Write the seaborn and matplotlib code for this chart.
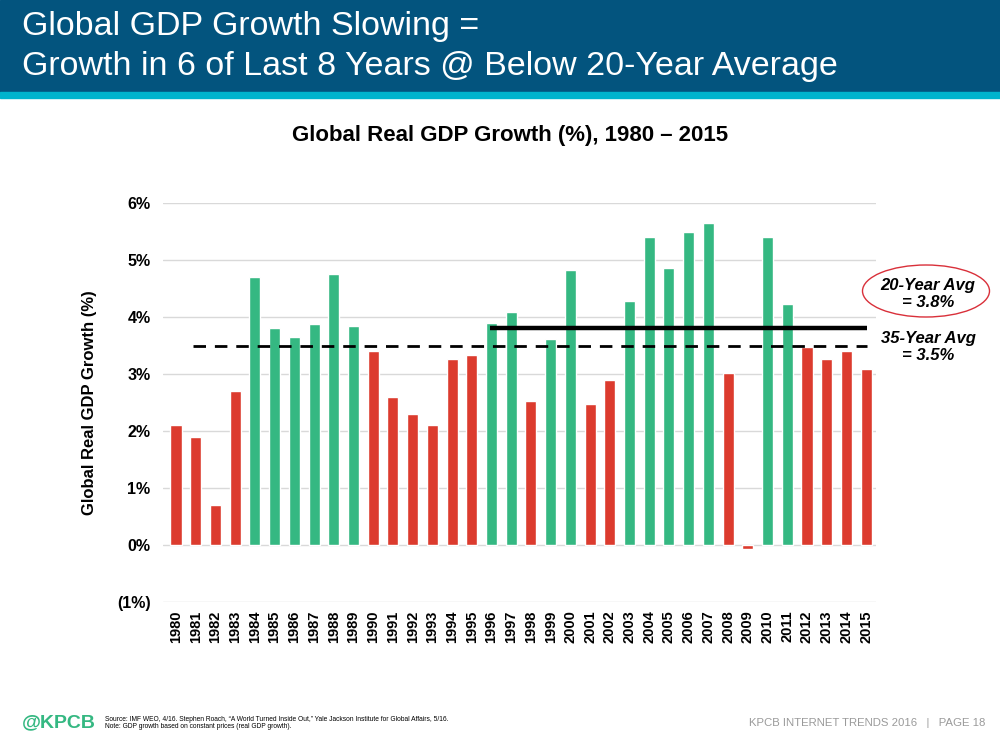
"""
Global Real GDP Growth (%) 1980-2015 bar chart, KPCB slide style.
"""

import numpy as np
import pandas as pd
import seaborn as sns
import matplotlib.pyplot as plt
from matplotlib.patches import Rectangle, Ellipse

# data
years = [str(y) for y in range(1980, 2016)]
growth = [2.1, 1.9, 0.7, 2.7, 4.7, 3.8, 3.65, 3.87, 4.75, 3.84,
          3.41, 2.6, 2.29, 2.1, 3.27, 3.33, 3.89, 4.08, 2.53, 3.62,
          4.82, 2.48, 2.9, 4.28, 5.4, 4.86, 5.49, 5.65, 3.01, -0.07,
          5.4, 4.22, 3.47, 3.27, 3.41, 3.08]
avg_20 = 3.8
avg_35 = 3.5
y_ticks = [-1, 0, 1, 2, 3, 4, 5, 6]
y_tick_labels = ['(1%)', '0%', '1%', '2%', '3%', '4%', '5%', '6%']

GREEN = '#35B882'
RED = '#DC3B2E'


def main():
    sns.set_style('white')
    plt.rcParams['font.family'] = ['Liberation Sans', 'DejaVu Sans']
    for key in ['text.color', 'axes.labelcolor', 'xtick.color', 'ytick.color']:
        plt.rcParams[key] = 'black'

    df = pd.DataFrame({'Year': years, 'Growth': growth})
    df['Group'] = np.where(df['Growth'] > avg_35, 'above', 'below')

    fig = plt.figure(figsize=(10, 7.47), dpi=100)

    # header band
    fig.patches.append(Rectangle((0, 1 - 92 / 747), 1, 92 / 747, transform=fig.transFigure,
                                 color='#03547E', zorder=0))
    fig.patches.append(Rectangle((0, 1 - 98 / 747), 1, 6 / 747, transform=fig.transFigure,
                                 color='#00B3CD', zorder=0))
    fig.text(0.022, 1 - 27 / 747, 'Global GDP Growth Slowing =', color='white',
             fontsize=24.5, va='center', ha='left')
    fig.text(0.022, 1 - 66 / 747, 'Growth in 6 of Last 8 Years @ Below 20-Year Average',
             color='white', fontsize=24.5, va='center', ha='left')

    ax = fig.add_axes([0.163, 1 - 602 / 747, 0.876 - 0.163, (602 - 203) / 747])
    sns.barplot(data=df, x='Year', y='Growth', hue='Group',
                palette={'above': GREEN, 'below': RED}, dodge=False, saturation=1,
                width=0.56, legend=False, ax=ax, zorder=2)

    # averages
    ax.hlines(avg_35, 0.86, 35.05, colors='black', linestyles=(0, (4.5, 3.2)),
              linewidth=2, zorder=3)
    ax.hlines(avg_20, 15.9, 35.05, colors='black', linewidth=3.2, zorder=3)

    ax.set_xlim(-0.66, 35.5)
    ax.set_ylim(-1, 6)
    ax.set_yticks(y_ticks)
    ax.set_yticklabels(y_tick_labels, fontsize=11.5, fontweight='bold')
    ax.yaxis.grid(True, color='#D9D9D9', linewidth=1, zorder=0)
    ax.set_axisbelow(True)
    for sp in ax.spines.values():
        sp.set_visible(False)
    ax.tick_params(axis='both', length=0)
    ax.tick_params(axis='y', pad=9)
    ax.tick_params(axis='x', pad=6)
    plt.setp(ax.get_xticklabels(), rotation=90, fontsize=10.5, fontweight='bold')
    ax.set_xlabel('')
    ax.set_ylabel('Global Real GDP Growth (%)', fontsize=12, fontweight='bold', labelpad=14)

    fig.text(0.51, 1 - 135 / 747, 'Global Real GDP Growth (%), 1980 \u2013 2015',
             fontsize=16, fontweight='bold', ha='center', va='center')

    # annotations
    fig.text(0.928, 1 - 294 / 747, '20-Year Avg\n= 3.8%', fontsize=12, fontweight='bold',
             style='italic', ha='center', va='center', linespacing=1.1)
    fig.patches.append(Ellipse((0.926, 1 - 291 / 747), 0.127, 52 / 747,
                               transform=fig.transFigure, fill=False,
                               edgecolor='#D9303A', linewidth=1))
    fig.text(0.928, 1 - 347 / 747, '35-Year Avg\n= 3.5%', fontsize=12, fontweight='bold',
             style='italic', ha='center', va='center', linespacing=1.1)

    # footer
    fig.text(0.022, 1 - 723 / 747, '@KPCB', color=GREEN, fontsize=14, fontweight='bold',
             va='center', ha='left')
    fig.text(0.105, 1 - 723 / 747,
             'Source: IMF WEO, 4/16. Stephen Roach, \u201cA World Turned Inside Out,\u201d '
             'Yale Jackson Institute for Global Affairs, 5/16.\n'
             'Note: GDP growth based on constant prices (real GDP growth).',
             fontsize=4.8, va='center', ha='left', linespacing=1.1)
    fig.text(0.985, 1 - 723 / 747, 'KPCB INTERNET TRENDS 2016   |   PAGE 18',
             color='#9A9A9A', fontsize=8.2, va='center', ha='right')

    fig.savefig('out.png', dpi=100)


if __name__ == '__main__':
    main()
